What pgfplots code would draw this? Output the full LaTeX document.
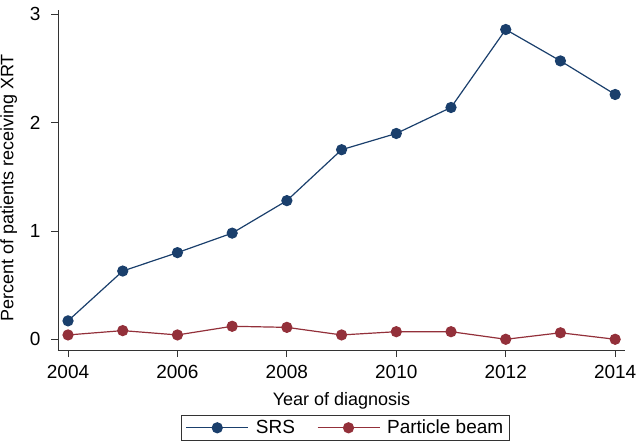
\documentclass[border=0pt]{standalone}
\usepackage{pgfplots}
\pgfplotsset{compat=1.18}
\usepackage{fontspec}
\setmainfont{Liberation Sans}
\definecolor{srsblue}{HTML}{1A3F6C}
\definecolor{pbred}{HTML}{93303A}
\definecolor{axgray}{HTML}{333333}

\begin{document}
\fontsize{19bp}{22bp}\selectfont
\begin{tikzpicture}
\begin{axis}[
    name=ax,
    scale only axis,
    width=567bp, height=340bp,
    xmin=2003.817, xmax=2014.18,
    ymin=-0.099, ymax=3.04,
    axis x line*=bottom, axis y line*=left,
    axis line style={axgray, line width=0.8bp, -},
    xtick={2004,2006,...,2014},
    ytick={0,1,2,3},
    tick align=outside,
    major tick length=7bp,
    tick style={axgray, line width=0.8bp},
    /pgf/number format/assume math mode=true,
    x tick label style={/pgf/number format/1000 sep={}, font=\fontsize{19bp}{22bp}\selectfont, yshift=-2bp},
    y tick label style={font=\fontsize{19bp}{22bp}\selectfont, xshift=-4bp},
    xlabel={Year of diagnosis},
    ylabel={Percent of patients receiving XRT},
    label style={font=\fontsize{18bp}{21bp}\selectfont},
    xlabel style={yshift=-1bp},
    ylabel style={xshift=-8bp},
    legend columns=2,
    legend style={at={(0.507,-0.19)}, anchor=north, draw=axgray, line width=0.8bp,
        font=\fontsize{19bp}{22bp}\selectfont, inner xsep=4bp, inner ysep=2.5bp,
        /tikz/every even column/.append style={column sep=20bp}},
    legend image code/.code={\draw[mark repeat=2,mark phase=2] plot coordinates {(0bp,0bp)(31bp,0bp)(62bp,0bp)};
        \path (67bp,0bp);},
    clip=false,
]
\addplot[srsblue, line width=1.2bp, mark=*, mark size=5bp, mark options={fill=srsblue, draw=srsblue}] coordinates {
    (2004,0.17) (2005,0.63) (2006,0.80) (2007,0.98) (2008,1.28) (2009,1.75)
    (2010,1.90) (2011,2.14) (2012,2.86) (2013,2.57) (2014,2.26)
};
\addlegendentry{SRS}
\addplot[pbred, line width=1.2bp, mark=*, mark size=5bp, mark options={fill=pbred, draw=pbred}] coordinates {
    (2004,0.04) (2005,0.08) (2006,0.04) (2007,0.12) (2008,0.11) (2009,0.04)
    (2010,0.07) (2011,0.07) (2012,0.00) (2013,0.06) (2014,0.00)
};
\addlegendentry{Particle beam\hspace{5bp}}
\end{axis}
\pgfresetboundingbox
\path ([shift={(-58bp,-94bp)}]ax.south west) rectangle ([shift={(579bp,350bp)}]ax.south west);
\end{tikzpicture}
\end{document}
